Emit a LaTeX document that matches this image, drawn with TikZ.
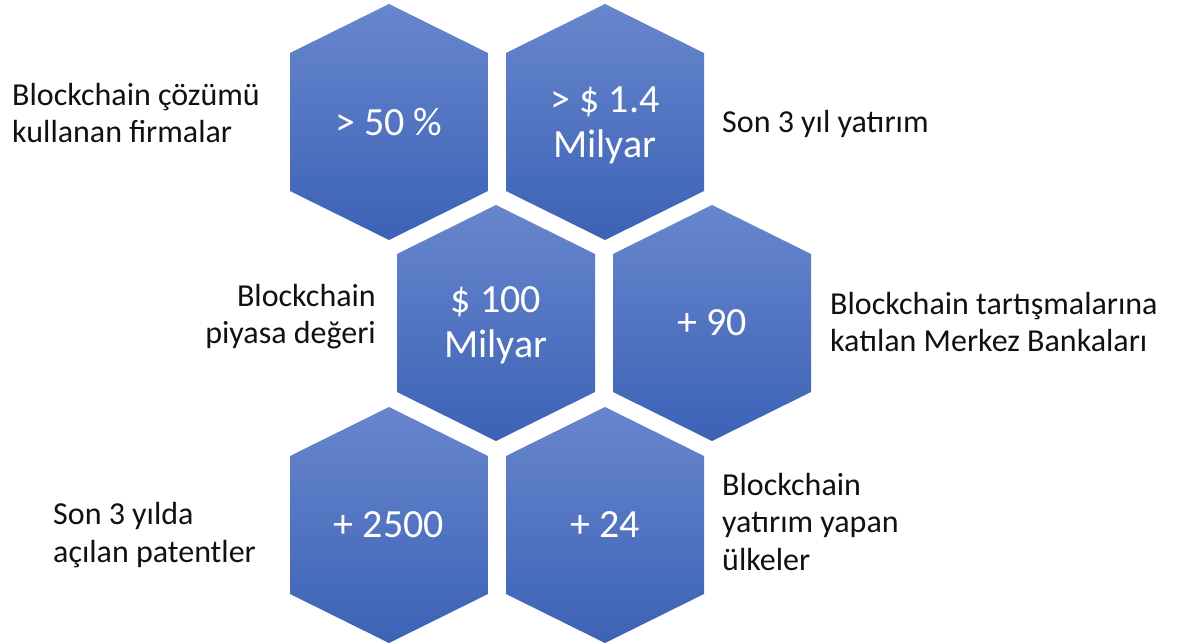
\documentclass[tikz,border=0pt]{standalone}
\usepackage{fontspec}
\setmainfont{Carlito}
\definecolor{hextop}{HTML}{6886CD}
\definecolor{hexbot}{HTML}{3C62B6}
\definecolor{labeltext}{HTML}{111111}
\tikzset{
  hexfill/.style={top color=hextop, bottom color=hexbot, draw=none},
  hextext/.style={text=white, align=center, inner sep=0pt,
    font=\fontsize{40}{45}\selectfont},
  sidelabel/.style={text=labeltext, inner sep=0pt,
    font=\fontsize{32}{37.5}\selectfont},
}
% hexagon with pointed top, centred at (#1,#2)
\newcommand{\hexat}[2]{%
  \shade[hexfill] (#1,#2-118) -- (#1+99,#2-69) -- (#1+99,#2+69) --
    (#1,#2+118) -- (#1-99,#2+69) -- (#1-99,#2-69) -- cycle;}
\begin{document}
\begin{tikzpicture}[x=1pt,y=-1pt]
  \useasboundingbox (0,0) rectangle (1186,644);
  \fill[white] (0,0) rectangle (1186,644);

  % honeycomb
  \hexat{389}{122}
  \hexat{605}{122}
  \hexat{496}{323}
  \hexat{712}{323}
  \hexat{389}{525}
  \hexat{605}{525}

  % figures inside the cells
  \node[hextext] (firms)   at (389,122) {> 50 \%};
  \node[hextext] (invest)  at (605,125) {> \$ 1.4\\Milyar};
  \node[hextext] (market)  at (496,325) {\$ 100\\Milyar};
  \node[hextext] (banks)   at (712,323) {+ 90};
  \node[hextext] (patents) at (389,525) {+ 2500};
  \node[hextext] (states)  at (605,525) {+ 24};

  % captions beside the cells (placed by the baseline of their last line)
  \node[sidelabel, anchor=base west, align=left] (firmslbl) at (12,143)
    {Blockchain çözümü\\kullanan firmalar};
  \node[sidelabel, anchor=base west, align=left] (investlbl) at (722,133)
    {Son 3 yıl yatırım};
  \node[sidelabel, anchor=base east, align=right] (marketlbl) at (376,344)
    {Blockchain\\piyasa değeri};
  \node[sidelabel, anchor=base west, align=left] (bankslbl) at (830,352)
    {Blockchain tartışmalarına\\katılan Merkez Bankaları};
  \node[sidelabel, anchor=base west, align=left] (patentslbl) at (53,562)
    {Son 3 yılda\\açılan patentler};
  \node[sidelabel, anchor=base west, align=left] (stateslbl) at (722,570)
    {Blockchain\\yatırım yapan\\ülkeler};
\end{tikzpicture}
\end{document}
